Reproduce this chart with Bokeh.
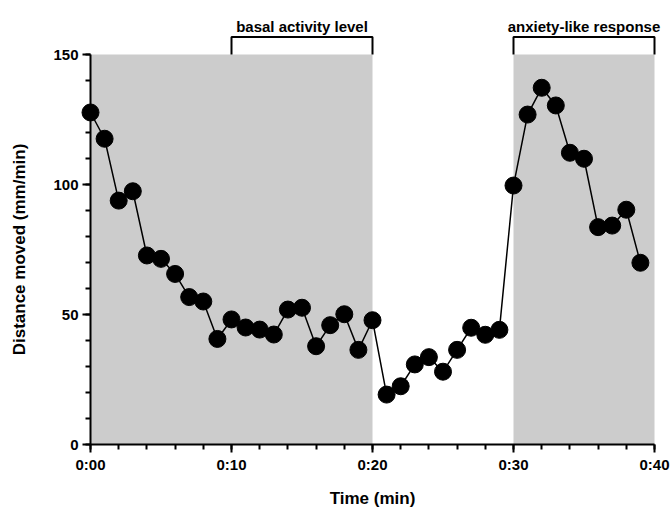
from bokeh.plotting import figure
from bokeh.models import FixedTicker, Range1d, GridBox
from bokeh.core.properties import value
from bokeh.embed import file_html
from bokeh.resources import INLINE

# ---- data ----
minutes = list(range(40))
distance = [127.7, 117.6, 93.8, 97.4, 72.7, 71.4, 65.6, 56.7, 55.0, 40.6,
            48.1, 45.0, 44.2, 42.3, 51.9, 52.6, 37.8, 45.9, 50.1, 36.4,
            47.8, 19.2, 22.4, 30.8, 33.6, 28.0, 36.4, 44.9, 42.2, 44.1,
            99.6, 126.9, 137.2, 130.4, 112.2, 109.9, 83.6, 84.2, 90.3, 69.9]
shade_start = [0, 30]
shade_end = [20, 40]
bracket_start = [10, 30]
bracket_end = [20, 40]
bracket_labels = ["basal activity level", "anxiety-like response"]
x_major = [0, 10, 20, 30, 40]
x_labels = ["0:00", "0:10", "0:20", "0:30", "0:40"]
y_major = [0, 50, 100, 150]
x_min, x_max = 0, 40
y_min, y_max = 0, 150
bracket_top = 156.7
label_y = 160.6

FONT = "Liberation Sans"
W, H = 672, 510
B_LEFT, B_RIGHT, B_TOP, B_BOTTOM = 90, 18, 54, 66
px_x = (W - B_LEFT - B_RIGHT) / (x_max - x_min)
px_y = (H - B_TOP - B_BOTTOM) / (y_max - y_min)

# ---- data layer (full canvas frame, same scale as the axes layer) ----
pd_ = figure(width=W, height=H, output_backend="svg", toolbar_location=None,
             x_axis_location=None, y_axis_location=None,
             x_range=Range1d(x_min - B_LEFT / px_x, x_max + B_RIGHT / px_x),
             y_range=Range1d(y_min - B_BOTTOM / px_y, y_max + B_TOP / px_y),
             min_border=0, frame_align=False)
pd_.outline_line_color = None
pd_.grid.visible = False

pd_.quad(left=shade_start, right=shade_end, bottom=[y_min] * len(shade_start),
         top=[y_max] * len(shade_start), fill_color="#cccccc", line_color=None)
pd_.line(minutes, distance, line_color="black", line_width=1.5)
pd_.scatter(minutes, distance, size=17, fill_color="black", line_color="black")

bxs = [[s, s, e, e] for s, e in zip(bracket_start, bracket_end)]
bys = [[y_max, bracket_top, bracket_top, y_max] for _ in bracket_start]
pd_.multi_line(bxs, bys, line_color="black", line_width=2)
pd_.text(x=[(s + e) / 2 for s, e in zip(bracket_start, bracket_end)],
         y=[label_y] * len(bracket_labels), text=bracket_labels,
         text_align="center", text_baseline="alphabetic",
         text_font=value(FONT), text_font_style="bold",
         text_font_size="15px", text_color="black")

# ---- axes layer (transparent, on top) ----
pa = figure(width=W, height=H, output_backend="svg", toolbar_location=None,
            x_range=Range1d(x_min, x_max), y_range=Range1d(y_min, y_max),
            min_border_left=B_LEFT, min_border_right=B_RIGHT,
            min_border_top=B_TOP, min_border_bottom=B_BOTTOM,
            frame_align=False)
pa.outline_line_color = None
pa.grid.visible = False
pa.background_fill_color = None
pa.border_fill_color = None

xa = pa.xaxis[0]
xa.ticker = FixedTicker(ticks=x_major, minor_ticks=list(range(0, 41, 2)))
xa.major_label_overrides = {v: l for v, l in zip(x_major, x_labels)}
xa.axis_label = "Time (min)"

ya = pa.yaxis[0]
ya.ticker = FixedTicker(ticks=y_major, minor_ticks=list(range(0, 151, 10)))
ya.axis_label = "Distance moved (mm/min)"

for ax in (xa, ya):
    ax.axis_line_width = 2
    ax.axis_line_color = "black"
    ax.major_tick_line_width = 2
    ax.minor_tick_line_width = 2
    ax.major_tick_line_color = "black"
    ax.minor_tick_line_color = "black"
    ax.major_tick_out = 8
    ax.major_tick_in = 0
    ax.minor_tick_out = 5
    ax.minor_tick_in = 0
    ax.major_label_text_font = FONT
    ax.major_label_text_font_style = "bold"
    ax.major_label_text_font_size = "15px"
    ax.major_label_text_color = "black"
    ax.axis_label_text_font = FONT
    ax.axis_label_text_font_style = "bold"
    ax.axis_label_text_font_size = "17px"
    ax.axis_label_text_color = "black"

xa.major_label_standoff = 3
xa.axis_label_standoff = 13
ya.major_label_standoff = 4
ya.axis_label_standoff = 21

layout = GridBox(children=[(pd_, 0, 0), (pa, 0, 0)])

open("out.html", "w").write(file_html(layout, INLINE))
